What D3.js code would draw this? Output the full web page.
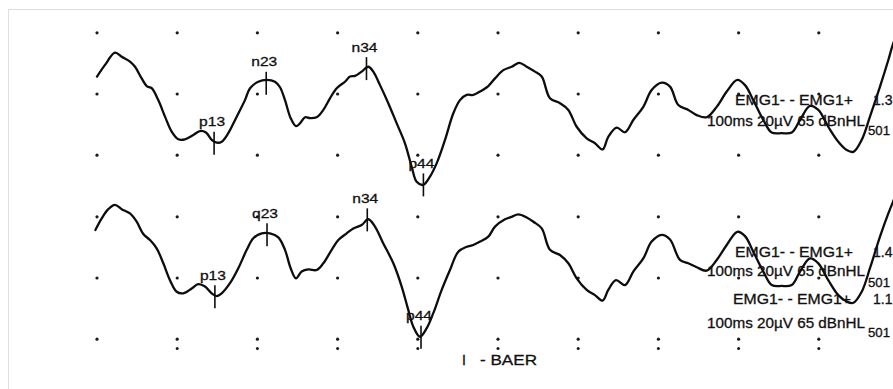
<!DOCTYPE html>
<html>
<head>
<meta charset="utf-8">
<script src="https://cdn.jsdelivr.net/npm/d3@7"></script>
<style>
  html, body { margin: 0; padding: 0; background: #fff; }
  svg { display: block; }
  text { font-family: "Liberation Sans", Arial, sans-serif; fill: #111; stroke: #111; stroke-width: 0.3px; }
</style>
</head>
<body>
<svg id="chart" width="893" height="389"></svg>
<script>
// Latency of each sample (ms) and amplitude (µV) for the two averaged traces
const topTime = [0.0,1.0,2.24,3.08,4.11,4.74,5.57,6.2,6.82,7.64,8.48,9.31,10.14,10.97,12.01,12.84,13.59,14.3,14.93,15.55,16.37,17.42,18.45,19.08,20.11,21.16,22.19,22.82,23.44,24.15,24.81,25.31,25.94,26.56,27.39,28.22,29.05,29.89,30.92,31.55,32.17,33.0,33.83,34.45,35.29,36.32,37.37,38.4,39.24,39.86,40.69,41.52,42.36,43.39,44.43,45.26,46.1,46.92,47.76,48.79,49.63,50.66,51.71,52.66,53.58,54.61,55.45,56.48,57.73,58.77,59.81,61.06,62.09,63.05,63.75,64.8,65.84,66.87,68.12,69.16,70.41,71.45,72.48,73.73,74.78,76.02,77.27,78.52,79.84,80.8,81.83,83.08,84.13,85.37,86.62,87.66,88.9,89.94,91.18,92.43,93.48,94.31,95.35,96.38,97.63,98.67,99.25,100.0];
const topAmp = [5.7,9.5,13.5,12.2,10.6,8.9,5.1,2.6,1.9,-2.0,-7.4,-12.3,-14.8,-14.8,-13.4,-12.1,-12.6,-15.0,-15.9,-15.6,-12.8,-7.4,-2.0,1.9,4.0,4.6,4.0,2.2,-2.0,-7.9,-10.5,-9.6,-7.6,-7.9,-7.6,-5.2,-1.4,1.9,4.0,5.7,5.9,7.3,8.9,7.3,2.9,-3.0,-9.6,-16.1,-23.8,-28.7,-29.7,-27.0,-22.6,-15.0,-6.3,-2.0,-0.3,-0.3,0.8,2.6,5.1,7.8,8.9,10.2,8.9,7.3,5.7,-1.4,-3.0,-5.2,-10.7,-14.5,-16.1,-18.1,-14.0,-11.0,-12.5,-8.5,-4.2,1.3,3.7,2.4,-3.6,-5.2,-6.9,-7.6,-4.2,0.8,4.6,2.9,-2.0,-8.5,-12.6,-12.8,-12.6,-8.5,-3.9,-5.2,-10.7,-15.6,-18.3,-18.9,-15.0,-7.4,2.4,11.1,16.3,21.0];

const botTime = [-0.2,0.59,1.41,2.24,3.08,4.11,4.95,5.77,6.61,7.44,8.27,9.1,9.94,10.76,11.81,12.63,13.47,14.3,14.93,15.55,16.58,17.62,18.67,19.49,20.54,21.57,22.61,23.44,24.15,24.81,25.52,26.35,27.39,28.22,29.26,30.09,31.13,31.96,33.0,33.83,34.66,35.7,36.95,37.99,38.82,39.44,40.27,41.11,41.93,42.98,44.01,45.05,46.1,46.92,47.76,48.79,49.63,50.87,51.71,52.53,53.58,54.41,55.45,56.48,57.73,58.77,59.81,61.06,62.09,63.05,63.75,64.71,65.84,66.87,68.12,69.16,70.41,71.45,72.69,73.73,74.78,76.02,77.27,78.52,79.84,80.8,81.83,83.08,84.13,85.37,86.62,87.66,88.9,89.94,91.18,92.43,93.48,94.31,95.35,96.38,97.63,98.67,99.25,100.0];
const botAmp = [15.7,19.5,22.5,23.9,22.5,21.1,18.4,14.4,12.4,9.7,4.8,-0.7,-4.5,-5.0,-3.4,-2.0,-2.8,-5.0,-5.9,-5.0,-1.7,3.2,9.2,13.0,14.6,14.6,13.3,9.2,3.2,-0.1,2.1,2.8,2.6,4.8,9.2,12.4,14.6,16.2,17.3,19.2,16.8,11.3,4.8,-2.8,-10.5,-15.9,-19.2,-16.4,-11.5,-3.9,2.6,8.6,10.2,10.8,11.9,13.5,16.8,19.2,20.0,20.8,19.8,18.4,16.2,9.2,7.5,4.8,-0.1,-3.9,-5.6,-7.4,-3.9,-0.7,-2.3,2.1,6.4,11.9,14.1,12.6,5.9,4.8,3.5,2.4,5.9,10.8,15.1,13.7,8.6,2.1,-2.3,-2.6,-2.3,2.1,6.4,4.8,-0.7,-5.6,-7.7,-8.1,-4.5,3.2,13.5,21.1,24.9,29.5];

// Peak markers: name, latency (ms), amplitude (µV)
const topPeakNames = ["p13", "n23", "n34", "p44"];
const topPeakTime  = [14.6, 21.1, 33.6, 40.7];
const topPeakAmp   = [-16.1, 3.5, 8.3, -29.7];

const botPeakNames = ["p13", "q23", "n34", "p44"];
const botPeakTime  = [14.7, 21.2, 33.7, 40.4];
const botPeakAmp   = [-6.1, 14.1, 19.0, -19.4];

// Grid: one dot column every 10 ms, rows every 20 µV
const gridTimes = [0, 10, 20, 30, 40, 50, 60, 70, 80, 90];
const gridAmps  = [20, 0, -20];
const extraRowAmp = -23;           // second sweep's lower grid row (bottom panel)

// Recording annotations for each sweep
const sweepChannel = "EMG1- - EMG1+";
const sweepSetup   = "100ms 20\u00b5V 65 dBnHL";
const sweepCount   = "501";
const sweepScale   = ["1.3", "1.4", "1.1"];
const footerTitle  = ["I", "- BAER"];

const svg = d3.select("#chart");

const x = d3.scaleLinear().domain([0, 100]).range([97, 899]);
const yTop = d3.scaleLinear().domain([-20, 20]).range([155.2, 32.8]);
const yBot = d3.scaleLinear().domain([-20, 20]).range([339.2, 216.8]);

// page frame
svg.append("line").attr("x1", 8.5).attr("x2", 8.5).attr("y1", 9.5).attr("y2", 389)
  .attr("stroke", "#dedede").attr("stroke-width", 1);
svg.append("line").attr("x1", 8).attr("x2", 893).attr("y1", 9.5).attr("y2", 9.5)
  .attr("stroke", "#dedede").attr("stroke-width", 1);

// grid dots
const dots = svg.append("g").attr("fill", "#1a1a1a");
[yTop, yBot].forEach(ys => {
  gridAmps.forEach(a => {
    gridTimes.forEach(t => {
      dots.append("circle").attr("cx", x(t)).attr("cy", ys(a)).attr("r", 1.6);
    });
  });
});
gridTimes.filter(t => t > 0).forEach(t => {
  dots.append("circle").attr("cx", x(t)).attr("cy", yBot(extraRowAmp)).attr("r", 1.5);
});

// traces
function drawTrace(times, amps, ys) {
  const pts = times.map((t, i) => [t, amps[i]]);
  const line = d3.line()
    .x(d => x(d[0])).y(d => ys(d[1]))
    .curve(d3.curveCatmullRom.alpha(0.5));
  svg.append("path").datum(pts)
    .attr("d", line)
    .attr("fill", "none")
    .attr("stroke", "#0d0d0d")
    .attr("stroke-width", 2.3)
    .attr("stroke-linejoin", "round")
    .attr("stroke-linecap", "round");
}
drawTrace(topTime, topAmp, yTop);
drawTrace(botTime, botAmp, yBot);

// peak markers
function drawPeaks(names, times, amps, ys) {
  names.forEach((n, i) => {
    const cx = x(times[i]), cy = ys(amps[i]);
    svg.append("line").attr("x1", cx).attr("x2", cx)
      .attr("y1", cy - 11.5).attr("y2", cy + 11.5)
      .attr("stroke", "#0d0d0d").attr("stroke-width", 1.6);
    svg.append("text").attr("x", cx - 15).attr("y", cy - 17)
      .attr("font-size", 13)
      .attr("textLength", 26).attr("lengthAdjust", "spacingAndGlyphs").text(n);
  });
}
drawPeaks(topPeakNames, topPeakTime, topPeakAmp, yTop);
drawPeaks(botPeakNames, botPeakTime, botPeakAmp, yBot);

// sweep annotations
function drawSweepLabel(chanX, chanY, setupY, countY, scale) {
  svg.append("text").attr("x", chanX).attr("y", chanY).attr("font-size", 14)
    .attr("textLength", 118).attr("lengthAdjust", "spacingAndGlyphs").text(sweepChannel);
  svg.append("text").attr("x", 873).attr("y", chanY).attr("font-size", 14).text(scale);
  svg.append("text").attr("x", 707).attr("y", setupY).attr("font-size", 14)
    .attr("textLength", 158).attr("lengthAdjust", "spacingAndGlyphs").text(sweepSetup);
  svg.append("text").attr("x", 868).attr("y", countY).attr("font-size", 12)
    .attr("textLength", 22).attr("lengthAdjust", "spacingAndGlyphs").text(sweepCount);
}
drawSweepLabel(735, 105, 126, 135, sweepScale[0]);
drawSweepLabel(735, 257, 276, 287, sweepScale[1]);
drawSweepLabel(733, 304, 328, 337, sweepScale[2]);

// footer
svg.append("text").attr("x", 462).attr("y", 365).attr("font-size", 14).text(footerTitle[0]);
svg.append("text").attr("x", 480).attr("y", 365).attr("font-size", 14)
  .attr("textLength", 57).attr("lengthAdjust", "spacingAndGlyphs").text(footerTitle[1]);
</script>
</body>
</html>
